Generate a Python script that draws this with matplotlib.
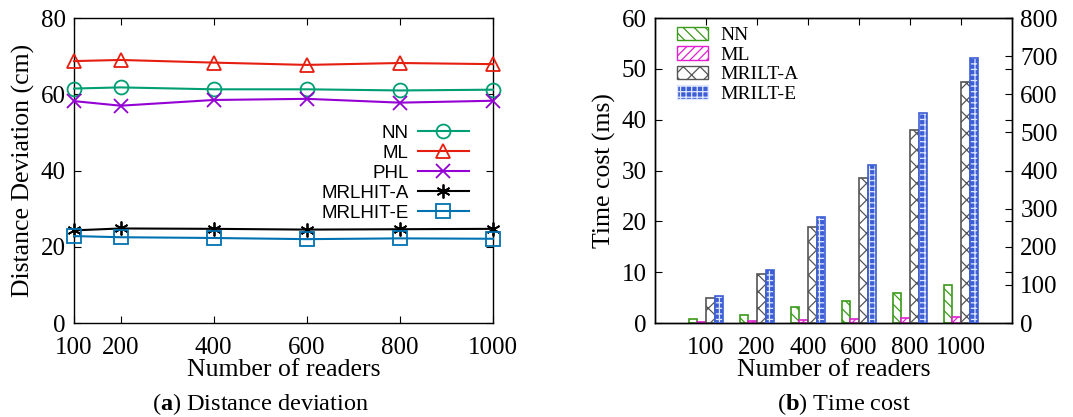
import numpy as np
import matplotlib
matplotlib.use("Agg")
import matplotlib.pyplot as plt
from matplotlib.patches import Patch

# ---- data ----
readers = [100, 200, 400, 600, 800, 1000]

# (a) distance deviation (cm)
dev_nn = [61.5, 61.8, 61.3, 61.3, 61.0, 61.2]
dev_ml = [68.7, 69.0, 68.3, 67.7, 68.2, 67.9]
dev_phl = [58.2, 57.0, 58.5, 58.8, 57.8, 58.3]
dev_mrlhit_a = [24.3, 24.8, 24.7, 24.5, 24.6, 24.7]
dev_mrlhit_e = [22.8, 22.5, 22.3, 22.0, 22.2, 22.1]

# (b) time cost, NN/ML on left axis (ms), MRILT on right axis
time_nn = [0.7, 1.5, 3.1, 4.4, 5.9, 7.4]
time_ml = [0.1, 0.3, 0.5, 0.7, 0.9, 1.1]
time_mrilt_a = [65, 129, 253, 380, 507, 633]
time_mrilt_e = [71, 139, 277, 415, 551, 696]

serif = "Liberation Serif"
sans = "Liberation Sans"
plt.rcParams["mathtext.fontset"] = "custom"
plt.rcParams["mathtext.bf"] = "Liberation Serif:bold"
plt.rcParams["mathtext.rm"] = "Liberation Serif"
plt.rcParams["hatch.linewidth"] = 0.9

TICK = 18
LAB = 18.5

fig = plt.figure(figsize=(10.73, 4.17), dpi=100)

# ---------- (a) ----------
ax1 = fig.add_axes([0.069, 0.2254, 0.3905, 0.7314])
styles = [
    ("NN", dev_nn, "#009e73", "o"),
    ("ML", dev_ml, "#e51e10", "^"),
    ("PHL", dev_phl, "#9400d3", "x"),
    ("MRLHIT-A", dev_mrlhit_a, "black", (6, 2, 0)),
    ("MRLHIT-E", dev_mrlhit_e, "#0072b2", "s"),
]
for name, vals, col, mk in styles:
    ax1.plot(readers, vals, color=col, marker=mk, markersize=10,
             markerfacecolor="none", markeredgewidth=1.3, linewidth=1.5,
             label=name, clip_on=False, zorder=3)
ax1.set_xlim(100, 1000)
ax1.set_ylim(0, 80)
ax1.set_xticks(readers)
ax1.set_yticks([0, 20, 40, 60, 80])
ax1.tick_params(direction="in", top=True, right=True, length=5,
                labelsize=TICK, pad=6)
ax1.tick_params(axis="x", pad=10)
for lbl in ax1.get_xticklabels() + ax1.get_yticklabels():
    lbl.set_family(serif)
ax1.set_xlabel("Number of readers", family=serif, fontsize=LAB, labelpad=0)
ax1.set_ylabel("Distance Deviation (cm)", family=serif, fontsize=LAB, labelpad=4)
leg1 = ax1.legend(loc="upper right", bbox_to_anchor=(0.96, 0.675),
                  markerfirst=False, frameon=False,
                  prop={"family": sans, "size": 13.5}, labelspacing=0.15,
                  handlelength=2.7, handletextpad=0.5, borderaxespad=0)

# ---------- (b) ----------
ax2 = fig.add_axes([0.6104, 0.2254, 0.3327, 0.7314])
ax3 = ax2.twinx()
idx = np.arange(1, len(readers) + 1)
w = 0.17

ax2.bar(idx - 1.5 * w, time_nn, w, facecolor="white", edgecolor="#3a9a1a",
        hatch="\\\\\\", linewidth=1.2, zorder=2)
ax2.bar(idx - 0.5 * w, time_ml, w, facecolor="white", edgecolor="#e020d0",
        hatch="////", linewidth=1.2, zorder=2)
ax3.bar(idx + 0.5 * w, time_mrilt_a, w, facecolor="white", edgecolor="#555555",
        hatch="xx", linewidth=1.2, zorder=2)
ax3.bar(idx + 1.5 * w, time_mrilt_e, w, facecolor="#3d5fd6", edgecolor="#dfe6ff",
        hatch="+++", linewidth=0, zorder=2)
ax3.bar(idx + 1.5 * w, time_mrilt_e, w, fill=False, edgecolor="#3d5fd6",
        linewidth=1.2, zorder=3)

ax2.set_xlim(0, 7)
ax2.set_ylim(0, 60)
ax3.set_ylim(0, 800)
ax2.set_xticks(idx)
ax2.set_xticklabels([str(r) for r in readers])
ax2.set_yticks(range(0, 61, 10))
ax3.set_yticks(range(0, 801, 100))
ax2.tick_params(direction="in", top=True, right=True, length=5,
                labelsize=TICK, pad=6)
ax2.tick_params(axis="x", pad=10)
ax3.tick_params(direction="in", length=5, labelsize=TICK, pad=6)
for lbl in ax2.get_xticklabels() + ax2.get_yticklabels() + ax3.get_yticklabels():
    lbl.set_family(serif)
ax2.set_xlabel("Number of readers", family=serif, fontsize=LAB, labelpad=0)
ax2.set_ylabel("Time cost (ms)", family=serif, fontsize=LAB, labelpad=4)

handles = [
    Patch(facecolor="white", edgecolor="#3a9a1a", hatch="\\\\\\", label="NN"),
    Patch(facecolor="white", edgecolor="#e020d0", hatch="////", label="ML"),
    Patch(facecolor="white", edgecolor="#555555", hatch="xx", label="MRILT-A"),
    Patch(facecolor="#3d5fd6", edgecolor="#dfe6ff", hatch="+++", label="MRILT-E"),
]
leg2 = ax3.legend(handles=handles, loc="upper left", bbox_to_anchor=(0.03, 1.01),
                  frameon=False, prop={"family": serif, "size": 14},
                  labelspacing=0.1, handlelength=1.6, handleheight=0.7,
                  handletextpad=0.6, borderaxespad=0.2)

for ax in (ax1, ax2, ax3):
    for s in ax.spines.values():
        s.set_linewidth(1.0)

# captions
fig.text(0.243, 0.03, r"($\mathbf{a}$) Distance deviation", family=serif,
         fontsize=17.5, ha="center", va="center")
fig.text(0.787, 0.03, r"($\mathbf{b}$) Time cost", family=serif,
         fontsize=17.5, ha="center", va="center")

fig.savefig("out.png", dpi=100)
